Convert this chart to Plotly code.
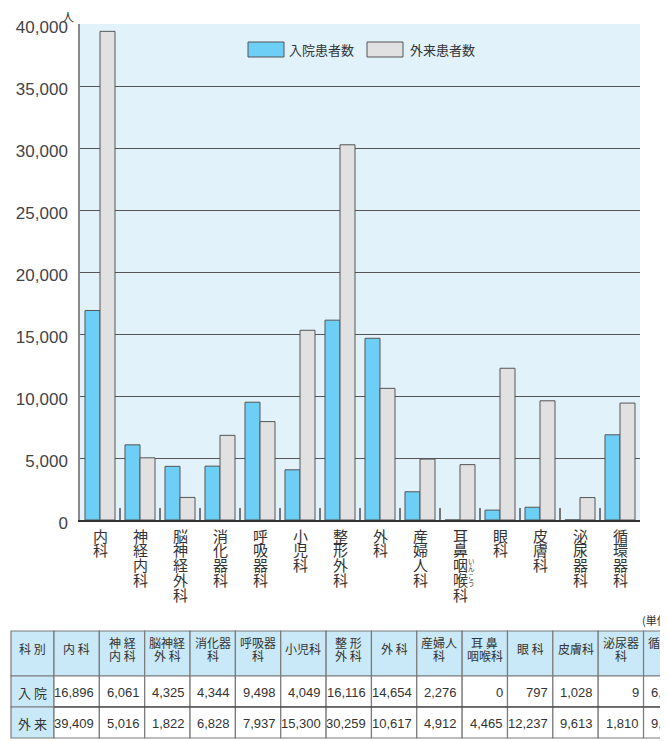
import plotly.graph_objects as go

# ---------------- data ----------------
categories = ["内科", "神経内科", "脳神経外科", "消化器科", "呼吸器科", "小児科", "整形外科",
              "外科", "産婦人科", "耳鼻咽喉科", "眼科", "皮膚科", "泌尿器科", "循環器科"]
inpatients = [16896, 6061, 4325, 4344, 9498, 4049, 16116, 14654, 2276, 0, 797, 1028, 9, 6870]
outpatients = [39409, 5016, 1822, 6828, 7937, 15300, 30259, 10617, 4912, 4465, 12237, 9613, 1810, 9430]
series_names = ["入院患者数", "外来患者数"]
y_ticks = [0, 5000, 10000, 15000, 20000, 25000, 30000, 35000, 40000]
table_headers = [["科 別"], ["内 科"], ["神 経", "内 科"], ["脳神経", "外 科"], ["消化器", "科"],
                 ["呼吸器", "科"], ["小児科"], ["整 形", "外 科"], ["外 科"], ["産婦人", "科"],
                 ["耳 鼻", "咽喉科"], ["眼 科"], ["皮膚科"], ["泌尿器", "科"], ["循環器", "科"]]
row_labels = ["入 院", "外 来"]
unit_label = "人"
table_unit = "(単位：人)"
furigana = "いんこう"

# ---------------- styles ----------------
OFF = 8                      # page body margin
W, H = 668 - OFF, 742 - OFF
L, R, T, B = 80, 640, 24, 520   # plot area in page pixels
BLUE = "#6DCFF6"
GRAY = "#E1E1E1"
EDGE = "#555555"
BG = "#E1F2FB"
HDR = "#C9E9F8"
CJK = "Noto Sans CJK JP"
LAT = "Liberation Sans, Arial, sans-serif"


def px(x):
    return (x - L) / (R - L)


def py(y):
    return (B - y) / (B - T)


fig = go.Figure()
fig.add_trace(go.Bar(x=categories, y=inpatients, name=series_names[0],
                     marker=dict(color=BLUE, line=dict(color=EDGE, width=1))))
fig.add_trace(go.Bar(x=categories, y=outpatients, name=series_names[1],
                     marker=dict(color=GRAY, line=dict(color=EDGE, width=1))))

shapes = []
annotations = []

# category labels, vertical writing (one char per line)
for cat in categories:
    for i, ch in enumerate(cat):
        annotations.append(dict(x=cat, xref="x", y=py(535 + i * 14.75), yref="paper",
                                text=ch, showarrow=False, xanchor="center", yanchor="middle",
                                font=dict(family=CJK, size=15, color="#333333")))
# furigana next to 咽喉
for i, ch in enumerate(furigana):
    annotations.append(dict(x=categories[9], xref="x", xshift=11, y=py(561 + i * 7.3), yref="paper",
                            text=ch, showarrow=False, xanchor="center", yanchor="middle",
                            font=dict(family=CJK, size=6.5, color="#333333")))

# unit label
annotations.append(dict(x=px(68), y=py(16.5), xref="paper", yref="paper", text=unit_label,
                        showarrow=False, xanchor="center", yanchor="middle",
                        font=dict(family=CJK, size=12, color="#333333")))

# legend (custom)
leg = [(248, 284, 287, BLUE, series_names[0]), (367, 403, 408, GRAY, series_names[1])]
for x0, x1, tx, col, name in leg:
    shapes.append(dict(type="rect", xref="paper", yref="paper", x0=px(x0), x1=px(x1),
                       y0=py(57), y1=py(42), fillcolor=col, line=dict(color=EDGE, width=1)))
    annotations.append(dict(x=px(tx), y=py(50), xref="paper", yref="paper", text=name,
                            showarrow=False, xanchor="left", yanchor="middle",
                            font=dict(family=CJK, size=13, color="#333333")))

# table
col_edges = [11, 54] + [54 + 45.35 * (k + 1) for k in range(14)]
row_edges = [631, 676, 707, 738]
for c in range(len(table_headers)):
    for r in range(3):
        fill = HDR if (r == 0 or c == 0) else "white"
        shapes.append(dict(type="rect", xref="paper", yref="paper",
                           x0=px(col_edges[c]), x1=px(col_edges[c + 1]),
                           y0=py(row_edges[r + 1]), y1=py(row_edges[r]),
                           fillcolor=fill, line=dict(color="#7A7A7A", width=1.2)))
shapes.append(dict(type="line", xref="paper", yref="paper", x0=px(col_edges[1]), x1=px(col_edges[-1]),
                   y0=py(707), y1=py(707), line=dict(color="#333333", width=1.2)))

for c, lines in enumerate(table_headers):
    cx = (col_edges[c] + col_edges[c + 1]) / 2
    ys = [648] if len(lines) == 1 else [642, 655]
    for ln, yy in zip(lines, ys):
        annotations.append(dict(x=px(cx), y=py(yy), xref="paper", yref="paper", text=ln,
                                showarrow=False, xanchor="center", yanchor="middle",
                                font=dict(family=CJK, size=12, color="#333333")))
for r, lab in enumerate(row_labels):
    cx = (col_edges[0] + col_edges[1]) / 2
    annotations.append(dict(x=px(cx), y=py([692, 723][r]), xref="paper", yref="paper", text=lab,
                            showarrow=False, xanchor="center", yanchor="middle",
                            font=dict(family=CJK, size=13, color="#333333")))
for r, vals in enumerate([inpatients, outpatients]):
    for k, v in enumerate(vals):
        annotations.append(dict(x=px(col_edges[k + 2] - 3), y=py([692, 723][r]), xref="paper",
                                yref="paper", text=f"{v:,}", showarrow=False,
                                xanchor="right", yanchor="middle",
                                font=dict(family=LAT, size=13, color="#333333")))
annotations.append(dict(x=px(640), y=py(620), xref="paper", yref="paper", text=table_unit,
                        showarrow=False, xanchor="left", yanchor="middle",
                        font=dict(family=CJK, size=11, color="#333333")))

fig.update_layout(
    width=W, height=H,
    margin=dict(l=L - OFF, r=W - (R - OFF), t=T - OFF, b=H - (B - OFF), pad=0),
    paper_bgcolor="white", plot_bgcolor=BG,
    barmode="group", bargap=0.25, bargroupgap=0,
    showlegend=False,
    shapes=shapes, annotations=annotations,
    xaxis=dict(type="category", range=[-0.5, 13.5], showticklabels=False,
               ticks="inside", tickson="boundaries", ticklen=12, tickwidth=1.5,
               tickcolor="#777777", showline=True, linecolor="#333333", linewidth=1.5,
               showgrid=False, fixedrange=True, automargin=False),
    yaxis=dict(range=[0, 40000], tickvals=y_ticks, tickformat=",d",
               showgrid=True, gridcolor="#555555", gridwidth=1.2,
               zeroline=False, showline=True, linecolor="#8A8A8A", linewidth=1.5,
               ticks="", ticklabelstandoff=7, ticklabelshift=3, automargin=False,
               tickfont=dict(family=LAT, size=17, color="#444444")),
)

fig.write_html("out.html")
